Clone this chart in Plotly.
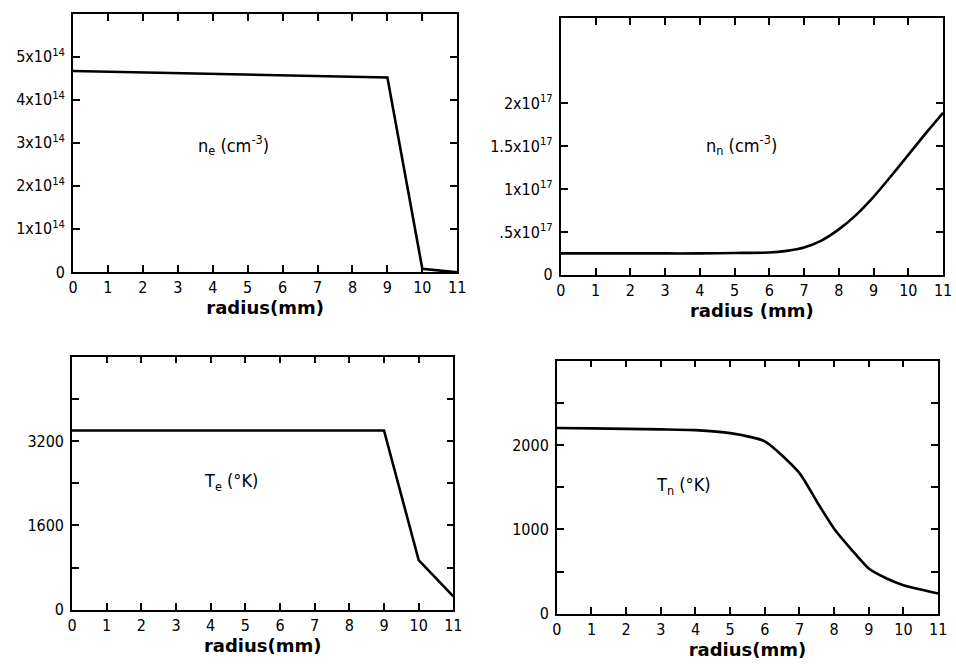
import plotly.graph_objects as go

# ---- data ----
r_ne = [0, 9, 10, 11]
ne = [4.67e14, 4.52e14, 0.07e14, -0.01e14]

r_nn = [0, 1, 2, 3, 4, 5, 6, 6.5, 7, 7.5, 8, 8.5, 9, 9.5, 10, 10.5, 11]
nn = [0.25e17, 0.25e17, 0.25e17, 0.25e17, 0.25e17, 0.255e17, 0.26e17, 0.28e17, 0.32e17,
      0.40e17, 0.53e17, 0.70e17, 0.91e17, 1.15e17, 1.40e17, 1.65e17, 1.89e17]

r_te = [0, 9, 10, 11]
te = [3400, 3400, 940, 255]

r_tn = [0, 1, 2, 3, 4, 5, 6, 7, 7.5, 8, 8.5, 9, 9.5, 10, 11]
tn = [2200, 2196, 2190, 2184, 2175, 2140, 2042, 1666, 1330, 1007, 760, 535, 420, 337, 240]

x_ticks = list(range(0, 12))
ne_tickvals = [0, 1e14, 2e14, 3e14, 4e14, 5e14]
ne_ticktext = ["0", "1x10<sup>14</sup>", "2x10<sup>14</sup>", "3x10<sup>14</sup>",
               "4x10<sup>14</sup>", "5x10<sup>14</sup>"]
nn_tickvals = [0, 0.5e17, 1e17, 1.5e17, 2e17]
nn_ticktext = ["0", ".5x10<sup>17</sup>", "1x10<sup>17</sup>", "1.5x10<sup>17</sup>",
               "2x10<sup>17</sup>"]
te_tickvals = [0, 1600, 3200]
te_ticktext = ["0", "1600", "3200"]
te_minor_step = 800
tn_tickvals = [0, 1000, 2000]
tn_ticktext = ["0", "1000", "2000"]
tn_minor_step = 500

W, H = 956, 671
FONT = "Liberation Sans Narrow, DejaVu Sans Condensed, Arial Narrow, sans-serif"

def dx(a, b):
    return [a / W, b / W]

def dy(top, bottom):
    return [1 - bottom / H, 1 - top / H]

fig = go.Figure()
line = dict(color="black", width=2.6)
spl = dict(color="black", width=2.6, shape="spline", smoothing=0.6)
fig.add_trace(go.Scatter(x=r_ne, y=ne, mode="lines", line=line, xaxis="x", yaxis="y"))
fig.add_trace(go.Scatter(x=r_nn, y=nn, mode="lines", line=spl, xaxis="x2", yaxis="y2"))
fig.add_trace(go.Scatter(x=r_te, y=te, mode="lines", line=line, xaxis="x3", yaxis="y3"))
fig.add_trace(go.Scatter(x=r_tn, y=tn, mode="lines", line=spl, xaxis="x4", yaxis="y4"))

common_ax = dict(showline=True, linecolor="black", linewidth=1.6, mirror="ticks",
                 ticks="inside", ticklen=7, tickwidth=1.6, tickcolor="black",
                 showgrid=False, zeroline=False,
                 tickfont=dict(family=FONT, size=16, color="black"))

def xaxis(domain, anchor, title, standoff):
    return dict(common_ax, domain=domain, anchor=anchor, range=[0, 11],
                tickvals=x_ticks, ticktext=[str(v) for v in x_ticks],
                title=dict(text="<b>" + title + "</b>", standoff=standoff,
                           font=dict(family="DejaVu Sans, sans-serif", size=18, color="black")))

def yaxis(domain, anchor, rng, tv, tt, minor_step=None):
    d = dict(common_ax, domain=domain, anchor=anchor, range=rng,
             tickvals=tv, ticktext=tt, ticklabelstandoff=3)
    if minor_step:
        d["minor"] = dict(tick0=0, dtick=minor_step, ticks="inside", ticklen=7,
                          tickwidth=1.6, tickcolor="black", showgrid=False)
    return d

fig.update_layout(
    width=W, height=H, margin=dict(l=0, r=0, t=0, b=0),
    paper_bgcolor="white", plot_bgcolor="white", showlegend=False,
    xaxis=xaxis(dx(69, 459), "y", "radius(mm)", 6),
    yaxis=yaxis(dy(14, 276), "x", [0, 6e14], ne_tickvals, ne_ticktext),
    xaxis2=xaxis(dx(564, 952), "y2", "radius (mm)", 6),
    yaxis2=yaxis(dy(18, 279), "x2", [0, 3e17], nn_tickvals, nn_ticktext),
    xaxis3=xaxis(dx(68, 455), "y3", "radius(mm)", 6),
    yaxis3=yaxis(dy(362, 619), "x3", [0, 4800], te_tickvals, te_ticktext, te_minor_step),
    xaxis4=xaxis(dx(560, 947), "y4", "radius(mm)", 6),
    yaxis4=yaxis(dy(366, 623), "x4", [0, 3000], tn_tickvals, tn_ticktext, tn_minor_step),
)

ann_font = dict(family=FONT, size=18, color="black")
fig.add_annotation(x=4.6, y=2.96e14, xref="x", yref="y", text="n<sub>e</sub> (cm<sup>-3</sup>)",
                   showarrow=False, font=ann_font)
fig.add_annotation(x=5.2, y=1.52e17, xref="x2", yref="y2", text="n<sub>n</sub> (cm<sup>-3</sup>)",
                   showarrow=False, font=ann_font)
fig.add_annotation(x=4.6, y=2420, xref="x3", yref="y3", text="T<sub>e</sub> (°K)",
                   showarrow=False, font=ann_font)
fig.add_annotation(x=3.65, y=1515, xref="x4", yref="y4", text="T<sub>n</sub> (°K)",
                   showarrow=False, font=ann_font)

fig.write_html("out.html")
